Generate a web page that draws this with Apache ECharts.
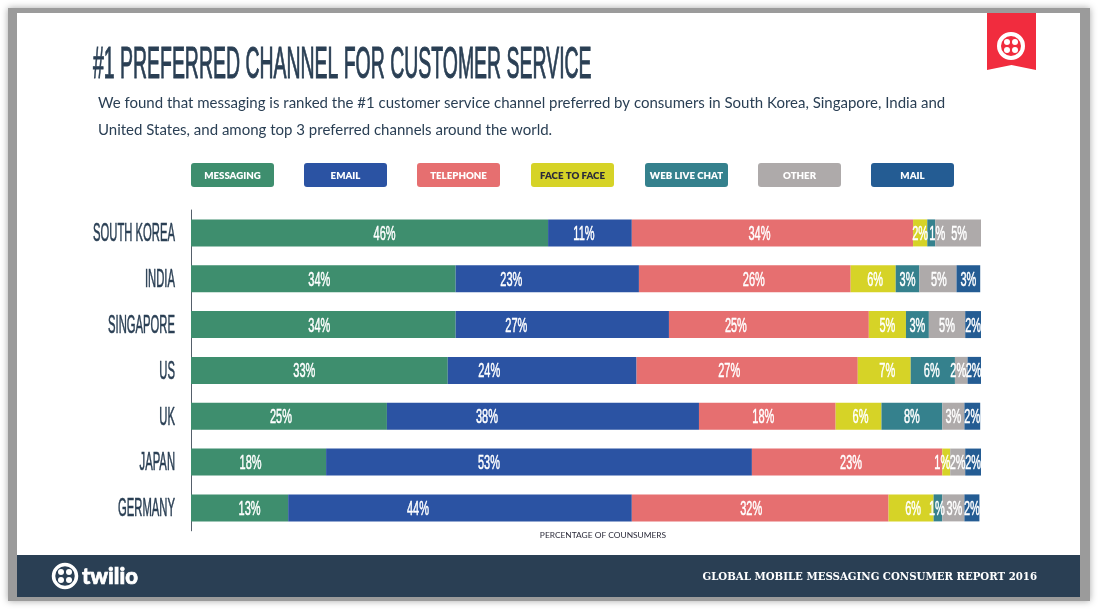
<!DOCTYPE html>
<html>
<head>
<meta charset="utf-8">
<style>
html, body { margin: 0; padding: 0; background: #fff; }
#main { width: 1098px; height: 610px; }
</style>
<script src="https://cdn.jsdelivr.net/npm/echarts@6/dist/echarts.min.js"></script>
</head>
<body>
<div id="main"></div>
<script>
var countries = ['SOUTH KOREA', 'INDIA', 'SINGAPORE', 'US', 'UK', 'JAPAN', 'GERMANY'];
var channels = ['MESSAGING', 'EMAIL', 'TELEPHONE', 'FACE TO FACE', 'WEB LIVE CHAT', 'OTHER', 'MAIL'];

// segment lengths as drawn in the picture (share of the bar)
var messaging = [45.2, 33.5, 33.5, 32.5, 24.8, 17.1, 12.3];
var email = [10.6, 23.2, 27.0, 23.9, 39.5, 53.9, 43.5];
var telephone = [35.6, 26.8, 25.3, 28.0, 17.3, 24.1, 32.5];
var faceToFace = [1.8, 5.7, 4.7, 6.7, 5.8, 1.0, 5.7];
var webLiveChat = [1.0, 3.0, 2.9, 5.6, 7.7, 0, 1.1];
var other = [5.8, 4.7, 4.6, 1.6, 2.8, 1.9, 2.8];
var mail = [0, 3.0, 2.0, 1.8, 2.0, 2.0, 1.9];

// numbers printed on the bars
var messagingLabels = [46, 34, 34, 33, 25, 18, 13];
var emailLabels = [11, 23, 27, 24, 38, 53, 44];
var telephoneLabels = [34, 26, 25, 27, 18, 23, 32];
var faceToFaceLabels = [2, 6, 5, 7, 6, 1, 6];
var webLiveChatLabels = [1, 3, 3, 6, 8, null, 1];
var otherLabels = [5, 5, 5, 2, 3, 2, 3];
var mailLabels = [null, 3, 2, 2, 2, 2, 2];

var seriesValues = [messaging, email, telephone, faceToFace, webLiveChat, other, mail];
var seriesLabels = [messagingLabels, emailLabels, telephoneLabels, faceToFaceLabels, webLiveChatLabels, otherLabels, mailLabels];
var colors = ['#3e8e6e', '#2b53a3', '#e66f70', '#d6d327', '#35818d', '#aeaaaa', '#245c93'];

// the printed numbers are not centred in their segments, px off centre
var labelNudge = [
	[15, -4, -4, -15, -8, -8, 10],
	[-6, -36, -46, -53, -56, -50, -42],
	[-13, 9, -33, -18, -4, 4, -9],
	[0, 2, 0, 3, 2, -4, 2],
	[6, 0, 0, -1, 0, 0, -1],
	[1, 1, 0, -3, 0, 0, 1],
	[0, 0, 0, -1, 0, 0, 0]
];

var NARROW = '"Liberation Sans"';
var DARK = '#2a3f54';

var barSeries = channels.map(function(name, s) {
	return {
		name: name,
		type: 'bar',
		stack: 'total',
		barWidth: 27,
		itemStyle: { color: colors[s] },
		data: seriesValues[s]
	};
});

// flat list for the label layer: [mid of segment, category, series]
var labelItems = [];
countries.forEach(function(c, i) {
	var left = 0;
	seriesValues.forEach(function(values, s) {
		if (seriesLabels[s][i] !== null) {
			labelItems.push([left + values[i] / 2, i, s]);
		}
		left += values[i];
	});
});

var valueLabelSeries = {
	type: 'custom',
	coordinateSystem: 'cartesian2d',
	silent: true,
	clip: false,
	z: 5,
	encode: { x: 0, y: 1 },
	data: labelItems,
	renderItem: function(params, api) {
		var i = api.value(1), s = api.value(2);
		var p = api.coord([api.value(0), i]);
		return {
			type: 'text',
			x: p[0] + labelNudge[s][i],
			y: p[1] + 1.5,
			scaleX: 0.55,
			style: {
				text: seriesLabels[s][i] + '%',
				fill: '#fff',
				stroke: '#fff',
				lineWidth: 0.5,
				font: '20px ' + NARROW,
				textAlign: 'center',
				textVerticalAlign: 'middle'
			}
		};
	}
};

var countryLabelSeries = {
	type: 'custom',
	coordinateSystem: 'cartesian2d',
	silent: true,
	clip: false,
	z: 5,
	encode: { x: 0, y: 1 },
	data: countries.map(function(c, i) { return [0, i]; }),
	renderItem: function(params, api) {
		var p = api.coord([0, api.value(1)]);
		return {
			type: 'text',
			x: p[0] - 16,
			y: p[1] + 1.5,
			scaleX: 0.45,
			style: {
				text: countries[params.dataIndex],
				fill: DARK,
				stroke: DARK,
				lineWidth: 0.6,
				font: '25px ' + NARROW,
				textAlign: 'right',
				textVerticalAlign: 'middle'
			}
		};
	}
};

// legend pills
var pillLeft = [191, 304, 417, 531, 645, 758, 871];
var pills = [];
channels.forEach(function(name, s) {
	pills.push({
		type: 'rect',
		shape: { x: pillLeft[s], y: 163, width: 83, height: 24, r: 3 },
		style: { fill: colors[s] }
	});
	pills.push({
		type: 'text',
		x: pillLeft[s] + 41.5,
		y: 176,
		style: {
			text: name,
			fill: s === 3 ? '#2b2b3a' : '#fff',
			font: '800 9.7px Lato',
			textAlign: 'center',
			textVerticalAlign: 'middle'
		}
	});
});

function twilioMark(cx, cy, r, dot, gap, ringW, ringColor, dotColor) {
	var out = [{
		type: 'circle',
		shape: { cx: cx, cy: cy, r: r },
		style: { fill: 'none', stroke: ringColor, lineWidth: ringW }
	}];
	[[-1, -1], [1, -1], [-1, 1], [1, 1]].forEach(function(d) {
		out.push({
			type: 'circle',
			shape: { cx: cx + d[0] * gap, cy: cy + d[1] * gap, r: dot },
			style: { fill: dotColor }
		});
	});
	return out;
}

var graphics = [
	{ type: 'rect', shape: { x: 8, y: 8, width: 1082, height: 593 },
		style: { fill: '#9b9b9b', shadowBlur: 7, shadowColor: 'rgba(0,0,0,0.35)' } },
	{ type: 'rect', shape: { x: 17, y: 13, width: 1063, height: 542 }, style: { fill: '#fff' } },
	{ type: 'rect', shape: { x: 17, y: 555, width: 1063, height: 42 }, style: { fill: DARK } },
	{ type: 'polygon', shape: { points: [[987, 13], [1036, 13], [1036, 70], [1011.5, 65], [987, 70]] },
		style: { fill: '#f12c3e' } },
	{ type: 'text', x: 93, y: 66, scaleX: 0.442,
		style: { text: '#1 PREFERRED CHANNEL FOR CUSTOMER SERVICE', fill: DARK, stroke: DARK, lineWidth: 1, font: '44px ' + NARROW, textVerticalAlign: 'middle' } },
	{ type: 'text', x: 98, y: 103,
		style: { text: 'We found that messaging is ranked the #1 customer service channel preferred by consumers in South Korea, Singapore, India and', fill: DARK, font: '15px Lato', textVerticalAlign: 'middle' } },
	{ type: 'text', x: 98, y: 130,
		style: { text: 'United States, and among top 3 preferred channels around the world.', fill: DARK, font: '15px Lato', textVerticalAlign: 'middle' } },
	{ type: 'text', x: 82, y: 577,
		style: { text: 'twilio', fill: '#fff', stroke: '#fff', lineWidth: 0.7, font: '900 22px Lato', textVerticalAlign: 'middle' } },
	{ type: 'text', x: 1037, y: 577,
		style: { text: 'GLOBAL MOBILE MESSAGING CONSUMER REPORT 2016', fill: '#fff', font: 'bold 10.2px "DejaVu Serif"', textAlign: 'right', textVerticalAlign: 'middle' } }
].concat(pills)
	.concat(twilioMark(1011, 46, 12, 3, 4, 4, '#fff', '#fff'))
	.concat(twilioMark(65, 576, 11.5, 3, 4, 3.5, '#fff', '#fff'));

var chart = echarts.init(document.getElementById('main'));
chart.setOption({
	animation: false,
	graphic: { elements: graphics },
	grid: { left: 191, top: 210, width: 790, height: 320.8 },
	xAxis: {
		type: 'value',
		min: 0,
		max: 100,
		axisLine: { show: false },
		axisTick: { show: false },
		axisLabel: { show: false },
		splitLine: { show: false },
		name: 'PERCENTAGE OF COUNSUMERS',
		nameLocation: 'middle',
		nameGap: 0,
		nameTextStyle: { color: '#2b2b3a', fontSize: 8.4, fontFamily: 'Lato', padding: [0, 0, 0, 34] }
	},
	yAxis: {
		type: 'category',
		inverse: true,
		data: countries,
		axisLine: { lineStyle: { color: '#55606b', width: 1 } },
		axisTick: { show: false },
		axisLabel: { show: false }
	},
	series: barSeries.concat([valueLabelSeries, countryLabelSeries])
});
</script>
</body>
</html>
